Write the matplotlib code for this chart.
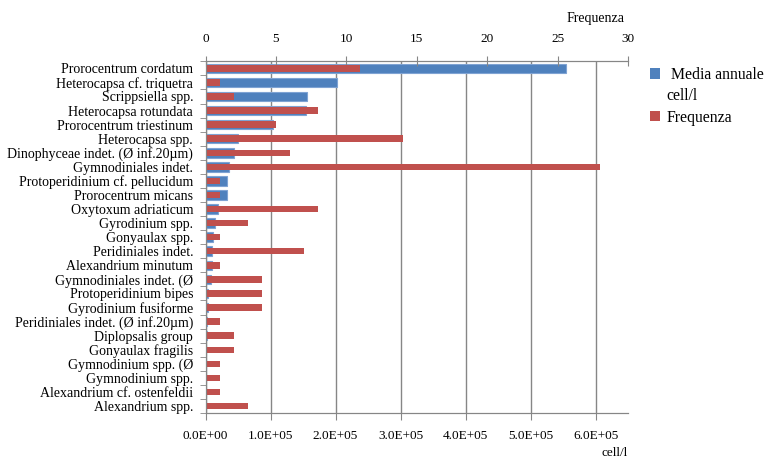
import matplotlib.pyplot as plt
from matplotlib.patches import Patch
import numpy as np

plt.rcParams['font.family'] = ['Liberation Serif', 'DejaVu Serif']

# dati: specie, media annuale (cell/l), frequenza
specie = [
    "Prorocentrum cordatum", "Heterocapsa cf. triquetra", "Scrippsiella spp.",
    "Heterocapsa rotundata", "Prorocentrum triestinum", "Heterocapsa spp.",
    "Dinophyceae indet. (Ø inf.20µm)", "Gymnodiniales indet.",
    "Protoperidinium cf. pellucidum", "Prorocentrum micans", "Oxytoxum adriaticum",
    "Gyrodinium spp.", "Gonyaulax spp.", "Peridiniales indet.", "Alexandrium minutum",
    "Gymnodiniales indet. (Ø", "Protoperidinium bipes", "Gyrodinium fusiforme",
    "Peridiniales indet. (Ø inf.20µm)", "Diplopsalis group", "Gonyaulax fragilis",
    "Gymnodinium spp. (Ø", "Gymnodinium spp.", "Alexandrium cf. ostenfeldii",
    "Alexandrium spp.",
]
media_annuale = [
    554000, 203000, 156000, 154000, 104000, 50600,
    44000, 36000, 33000, 33000, 19000,
    14000, 12000, 10000, 10000,
    8000, 4000, 4000,
    3000, 2500, 1000,
    600, 400, 300, 200,
]
frequenza = [
    11, 1, 2, 8, 5, 14,
    6, 28, 1, 1, 8,
    3, 1, 7, 1,
    4, 4, 4,
    1, 2, 2,
    1, 1, 1, 3,
]

blu = "#4F81BD"
rosso = "#C0504D"
grigio = "#868686"

fig = plt.figure(figsize=(7.64, 4.61), dpi=100)
ax = fig.add_axes([0.269, 0.104, 0.553, 0.763])
ax2 = ax.twiny()

y = np.arange(len(specie))

ax.barh(y, media_annuale, height=0.68, color=blu, edgecolor="#7FA3D3", linewidth=0.8, zorder=2)
ax2.barh(y, frequenza, height=0.46, color=rosso, zorder=2)

# asse inferiore (cell/l)
ax.set_xlim(0, 6.5e5)
ax.set_xticks(np.arange(0, 6.01e5, 1e5))
ax.set_xticklabels(["{:.1E}".format(v) for v in np.arange(0, 6.01e5, 1e5)], fontsize=9.5)
ax.grid(axis="x", color=grigio, linewidth=1)
ax.set_axisbelow(True)
ax.tick_params(axis="x", direction="out", length=5, color=grigio, pad=7)

# asse categorie
ax.set_ylim(len(specie) - 0.5, -0.5)
ax.set_yticks(y)
ax.set_yticklabels(specie, fontsize=10)
ax.set_yticks(np.arange(-0.5, len(specie), 1), minor=True)
ax.tick_params(axis="y", which="major", length=0, pad=9)
ax.tick_params(axis="y", which="minor", length=4, color=grigio, direction="out")

# asse superiore (Frequenza)
ax2.set_xlim(0, 30)
ax2.set_xticks(range(0, 31, 5))
ax2.tick_params(axis="x", direction="inout", length=7, color=grigio, labelsize=9.5, pad=8)
ax2.set_ylim(len(specie) - 0.5, -0.5)

for a in (ax, ax2):
    a.spines["right"].set_visible(False)
    for s in ("left", "bottom", "top"):
        a.spines[s].set_color(grigio)

fig.text(0.817, 0.96, "Frequenza", ha="right", va="center", fontsize=10)
fig.text(0.822, 0.018, "cell/l", ha="right", va="center", fontsize=9.5)

# legenda: la seconda riga "cell/l" senza simbolo
handles = [Patch(facecolor=blu), Patch(facecolor="none", edgecolor="none"), Patch(facecolor=rosso)]
fig.legend(handles, [" Media annuale", "cell/l", "Frequenza"], loc="upper left",
           bbox_to_anchor=(0.851, 0.855), frameon=False, fontsize=11.3,
           borderpad=0, borderaxespad=0,
           handlelength=0.65, handleheight=0.65, handletextpad=0.4, labelspacing=0.34)

plt.savefig("out.png", dpi=100)
